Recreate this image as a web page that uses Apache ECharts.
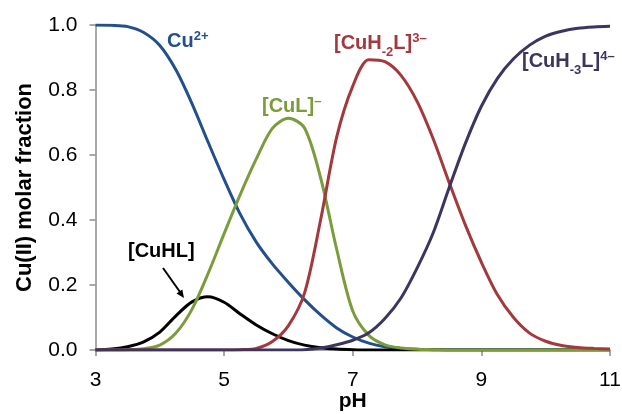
<!DOCTYPE html>
<html>
<head>
<meta charset="utf-8">
<script src="https://cdn.jsdelivr.net/npm/echarts@6/dist/echarts.min.js"></script>
<style>
html,body{margin:0;padding:0;background:#fff;}
#chart{width:622px;height:414px;}
</style>
</head>
<body>
<div id="chart"></div>
<script>
// ---- data ----
var pH = [3,3.25,3.5,3.75,4,4.25,4.5,4.75,5,5.25,5.5,5.75,6,6.25,6.5,6.75,7,7.25,7.5,7.75,8,8.25,8.5,8.75,9,9.25,9.5,9.75,10,10.25,10.5,10.75,11];
var cu2 =   [1.0,0.999,0.995,0.977,0.937,0.862,0.758,0.64,0.525,0.418,0.332,0.265,0.208,0.155,0.108,0.068,0.04,0.021,0.01,0.005,0.002,0.001,0,0,0,0,0,0,0,0,0,0,0];
var cuHL =  [0,0.003,0.01,0.025,0.055,0.105,0.148,0.164,0.147,0.111,0.077,0.05,0.029,0.015,0.007,0.003,0.001,0,0,0,0,0,0,0,0,0,0,0,0,0,0,0,0];
var cuL =   [0,0,0.001,0.004,0.015,0.052,0.125,0.235,0.358,0.478,0.588,0.682,0.713,0.683,0.53,0.31,0.12,0.045,0.016,0.006,0.002,0.001,0,0,0,0,0,0,0,0,0,0,0];
var cuH2L = [0,0,0,0,0,0,0,0,0,0.001,0.005,0.026,0.075,0.175,0.40,0.655,0.812,0.893,0.887,0.845,0.765,0.65,0.515,0.385,0.27,0.17,0.10,0.052,0.027,0.014,0.008,0.005,0.003];
var cuH3L = [0,0,0,0,0,0,0,0,0,0,0,0,0,0.001,0.006,0.016,0.03,0.053,0.097,0.16,0.252,0.36,0.5,0.635,0.75,0.836,0.896,0.938,0.966,0.981,0.99,0.994,0.996];
var xTicks = [3,5,7,9,11];
var yTicks = [0.0,0.2,0.4,0.6,0.8,1.0];

function zip(ys){ return pH.map(function(x,i){ return [x, ys[i]]; }); }

var FONT = 'Liberation Sans, Arial, Helvetica, sans-serif';
var C_BLUE = '#22508c', C_BLACK = '#000000', C_GREEN = '#7a9c3a', C_RED = '#a3393c', C_PURPLE = '#3b355f';

function line(name, ys, color, z){
  return { name: name, type: 'line', data: zip(ys), smooth: 0.3, showSymbol: false, symbol: 'none',
           lineStyle: { color: color, width: 3 }, itemStyle: { color: color }, z: z, silent: true };
}

var chart = echarts.init(document.getElementById('chart'), null, { renderer: 'canvas' });

function richLabel(x, y, text, color){
  return {
    type: 'text', x: x, y: y, z: 100,
    style: {
      text: text, fill: color, textVerticalAlign: 'top',
      rich: {
        m:   { fontSize: 20, fontWeight: 'bold', fontFamily: FONT, fill: color, lineHeight: 23, verticalAlign: 'middle' },
        sup: { fontSize: 13, fontWeight: 'bold', fontFamily: FONT, fill: color, lineHeight: 13, verticalAlign: 'top' },
        sub: { fontSize: 13, fontWeight: 'bold', fontFamily: FONT, fill: color, lineHeight: 13, verticalAlign: 'bottom', padding: [0,0,-4,0] }
      }
    }
  };
}

var option = {
  animation: false,
  backgroundColor: '#ffffff',
  grid: { left: 95.5, right: 12, top: 25, bottom: 64, containLabel: false, outerBoundsMode: 'none' },
  xAxis: {
    type: 'value', min: 3, max: 11, interval: 2,
    name: 'pH', nameLocation: 'middle', nameGap: 41, nameMoveOverlap: false,
    nameTextStyle: { fontFamily: FONT, fontWeight: 'bold', fontSize: 21, color: '#000', lineHeight: 21 },
    axisLine: { show: true, lineStyle: { color: '#8c8c8c', width: 1.5 } },
    axisTick: { show: true, inside: false, length: 6, lineStyle: { color: '#8c8c8c', width: 1.5 } },
    splitLine: { show: false },
    axisLabel: { fontFamily: FONT, fontSize: 21, color: '#000', margin: 20,
      formatter: function(v){ return xTicks.indexOf(v) >= 0 ? String(v) : ''; } }
  },
  yAxis: {
    type: 'value', min: 0, max: 1, interval: 0.2,
    name: 'Cu(II) molar fraction', nameLocation: 'middle', nameGap: 60, nameMoveOverlap: false,
    nameTextStyle: { fontFamily: FONT, fontWeight: 'bold', fontSize: 22, color: '#000' },
    axisLine: { show: true, lineStyle: { color: '#8c8c8c', width: 1.5 } },
    axisTick: { show: true, inside: false, length: 6, lineStyle: { color: '#8c8c8c', width: 1.5 } },
    splitLine: { show: false },
    axisLabel: { fontFamily: FONT, fontSize: 21, color: '#000', margin: 18,
      formatter: function(v){ return v.toFixed(1); } }
  },
  series: [
    line('Cu2+', cu2, C_BLUE, 2),
    line('[CuHL]', cuHL, C_BLACK, 3),
    line('[CuL]-', cuL, C_GREEN, 4),
    line('[CuH-2L]3-', cuH2L, C_RED, 5),
    line('[CuH-3L]4-', cuH3L, C_PURPLE, 6)
  ],
  graphic: [
    richLabel(167, 30, '{m|Cu}{sup|2+}', C_BLUE),
    richLabel(262, 95, '{m|[CuL]}{sup|–}', C_GREEN),
    richLabel(334, 32, '{m|[CuH}{sub|-2}{m|L]}{sup|3–}', C_RED),
    richLabel(522, 50, '{m|[CuH}{sub|-3}{m|L]}{sup|4–}', C_PURPLE),
    richLabel(128, 240, '{m|[CuHL]}', C_BLACK),
    { type: 'line', z: 100, shape: { x1: 163, y1: 268, x2: 180, y2: 292 }, style: { stroke: '#000', lineWidth: 2 } },
    { type: 'polygon', z: 100, shape: { points: [[176.5,293.5],[182.3,289.4],[184,298]] }, style: { fill: '#000' } }
  ]
};
chart.setOption(option);
</script>
</body>
</html>
